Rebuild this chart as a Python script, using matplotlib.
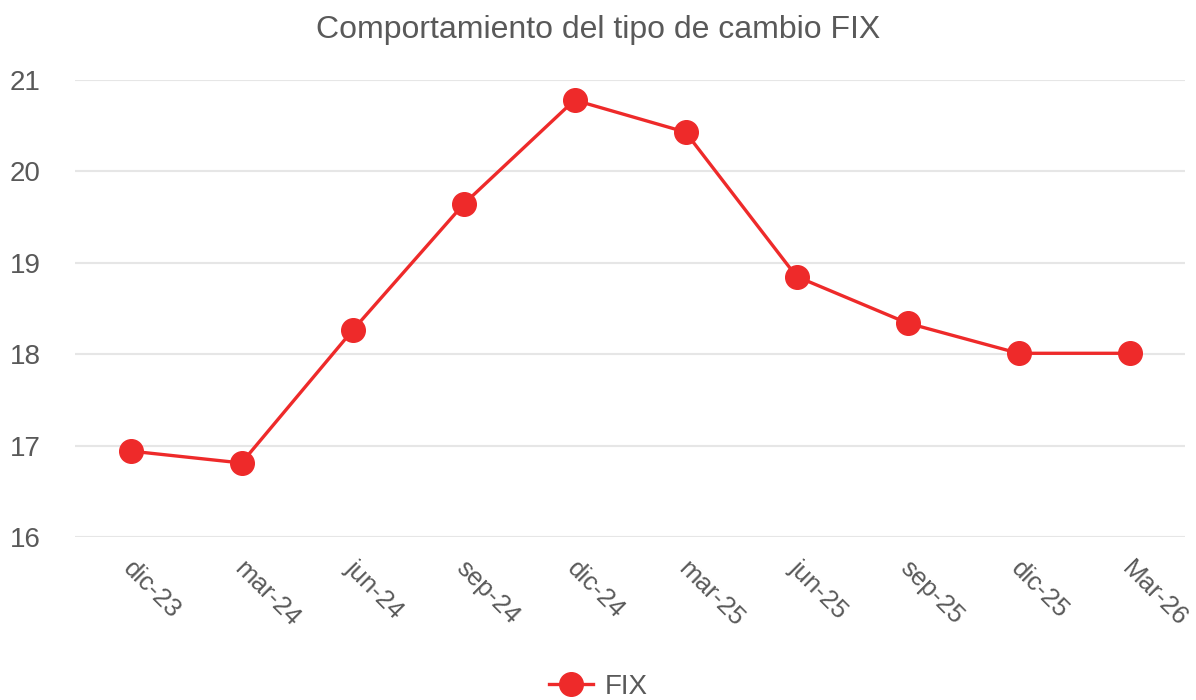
import matplotlib.pyplot as plt
import numpy as np
from matplotlib.transforms import ScaledTranslation

plt.rcParams["font.family"] = ["Liberation Sans", "DejaVu Sans"]

categories = ["dic-23", "mar-24", "jun-24", "sep-24", "dic-24",
              "mar-25", "jun-25", "sep-25", "dic-25", "Mar-26"]
fix_values = [16.94, 16.81, 18.26, 19.64, 20.78, 20.43, 18.85, 18.34, 18.01, 18.01]
y_ticks = [16, 17, 18, 19, 20, 21]

text_color = "#595959"
red = "#EE2A2A"

fig = plt.figure(figsize=(11.96, 7.0), dpi=100)
ax = fig.add_axes([75 / 1196, 1 - 537 / 700, 1110 / 1196, 457 / 700])

x = np.arange(len(categories))
ax.plot(x, fix_values, color=red, linewidth=2.4, marker="o", markersize=17,
        label="FIX", zorder=3)

ax.set_xlim(-0.5, len(categories) - 0.5)
ax.set_ylim(16, 21)
ax.set_yticks(y_ticks)
ax.set_yticklabels([str(t) for t in y_ticks], fontsize=20, color=text_color)
ax.set_xticks(x)
ax.set_xticklabels(categories, rotation=-45, ha="left", rotation_mode="anchor",
                   fontsize=18.5, color=text_color)
ax.tick_params(axis="both", length=0)
ax.tick_params(axis="y", pad=47)
ax.tick_params(axis="x", pad=14)
for lbl in ax.get_yticklabels():
    lbl.set_horizontalalignment("left")
shift = ScaledTranslation(5 / 100, 0, fig.dpi_scale_trans)
for lbl in ax.get_xticklabels():
    lbl.set_transform(lbl.get_transform() + shift)

ax.grid(axis="y", color="#E6E6E6", linewidth=1.5)
ax.set_axisbelow(True)
for spine in ax.spines.values():
    spine.set_visible(False)

fig.suptitle("Comportamiento del tipo de cambio FIX", y=0.978, fontsize=23,
             color=text_color)

fig.legend(loc="lower center", bbox_to_anchor=(0.5, -0.035), frameon=False,
           fontsize=20, labelcolor=text_color, handlelength=1.6,
           handletextpad=0.4)

fig.savefig("out.png", dpi=100)
